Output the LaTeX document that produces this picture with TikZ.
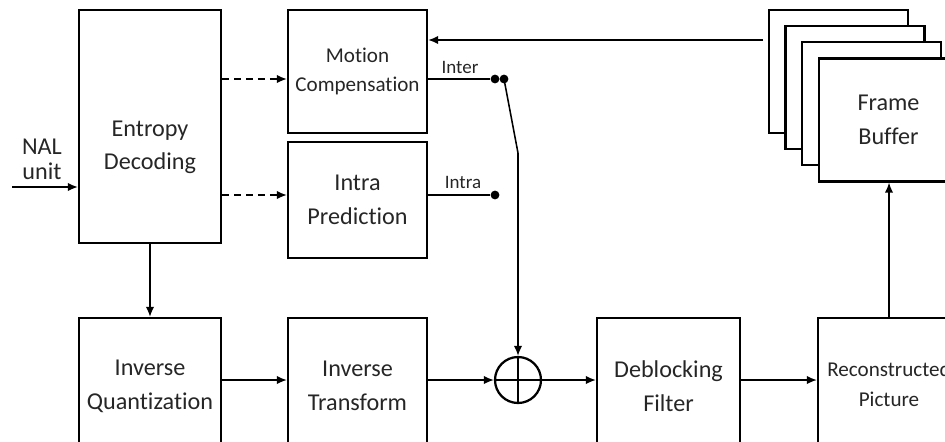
\documentclass[tikz,border=0pt]{standalone}
\usepackage{fontspec}
\setmainfont[Ligatures=NoCommon]{Carlito}
\usetikzlibrary{arrows.meta}

\begin{document}
\begin{tikzpicture}
\tikzstyle{box}=[draw,line width=1.6pt,align=center,inner sep=0pt,text=black!85,font=\fontsize{17.2}{24}\selectfont];
\tikzstyle{sbox}=[box,font=\fontsize{15}{21}\selectfont];
\tikzstyle{txt}=[align=center,text=black!85,font=\fontsize{17.2}{23}\selectfont];
\tikzstyle{lbl}=[text=black!85,font=\fontsize{13.5}{15}\selectfont];
\tikzstyle{arr}=[line width=1.1pt,-{Latex[length=2.5mm,width=2.1mm]}];
\tikzstyle{wire}=[line width=1.1pt];
\tikzstyle{dot}=[circle,fill,inner sep=0pt,minimum size=0.22cm];

\useasboundingbox (0,0) rectangle (23.625,-11.025);

\node [box,minimum width=3.55cm,minimum height=5.825cm] (ent) at (3.75,-3.1625) {};
\node [txt] (entl) at (3.75,-3.68) {Entropy\\Decoding};
\node [txt,font=\fontsize{17.2}{17.5}\selectfont] (nal) at (1.05,-3.98) {NAL\\unit};
\coordinate (nalin) at (0.3,-4.675);

\node [sbox,minimum width=3.475cm,minimum height=3.075cm] (mc) at (8.9375,-1.7875) {Motion\\Compensation};
\node [box,minimum width=3.475cm,minimum height=2.9cm] (ip) at (8.9375,-5) {Intra\\Prediction};

\node [box,minimum width=3.55cm,minimum height=3.4cm] (iq) at (3.75,-9.65) {Inverse\\Quantization};
\node [box,minimum width=3.475cm,minimum height=3.4cm] (it) at (8.9375,-9.65) {Inverse\\Transform};
\node [circle,draw,line width=1.6pt,minimum size=1.15cm,inner sep=0pt] (add) at (12.95,-9.5) {};
\node [box,minimum width=3.575cm,minimum height=3.4cm] (dbf) at (16.7125,-9.65) {Deblocking\\Filter};
\node [sbox,minimum width=3.55cm,minimum height=3.3cm] (rec) at (22.225,-9.6) {Reconstructed\\Picture};

\node [box,fill=white,minimum width=3.475cm,minimum height=3.075cm] (fb1) at (20.9625,-1.7875) {};
\node [box,fill=white,minimum width=3.475cm,minimum height=3.075cm] (fb2) at (21.375,-2.1875) {};
\node [box,fill=white,minimum width=3.475cm,minimum height=3.075cm] (fb3) at (21.7875,-2.5875) {};
\node [box,fill=white,minimum width=3.475cm,minimum height=3.075cm] (fb4) at (22.2125,-3.0) {Frame\\Buffer};

\node [dot] (d1) at (12.375,-1.975) {};
\node [dot] (d2) at (12.6,-1.975) {};
\node [dot] (d3) at (12.375,-4.875) {};
\node [lbl] (inter) at (11.5,-1.68) {Inter};
\node [lbl] (intra) at (11.575,-4.55) {Intra};

\draw [arr] (nalin) -- (ent.west |- nalin);
\draw [arr,dash pattern=on 5pt off 3.5pt] (ent.east |- d1) -- (mc.west |- d1);
\draw [arr,dash pattern=on 5pt off 3.5pt] (ent.east |- d3) -- (ip.west |- d3);
\draw [arr] (ent.south) -- (iq.north);
\draw [wire] (mc.east |- d1) -- (d1);
\draw [wire] (ip.east |- d3) -- (d3);
\draw [arr] (d2.center) -- (add.north |- 0,-3.825) -- (add.north);
\draw [wire] (add.north) -- (add.south) (add.west) -- (add.east);
\draw [arr] (iq.east |- add) -- (it.west |- add);
\draw [arr] (it.east |- add) -- (add.west);
\draw [arr] (add.east) -- (dbf.west |- add);
\draw [arr] (dbf.east |- add) -- (rec.west |- add);
\draw [arr] (rec.north) -- (rec.north |- fb4.south);
\draw [arr,shorten <=0.12cm] ([yshift=0.7875cm]fb1.west) -- ([yshift=0.7875cm]mc.east);
\end{tikzpicture}
\end{document}
